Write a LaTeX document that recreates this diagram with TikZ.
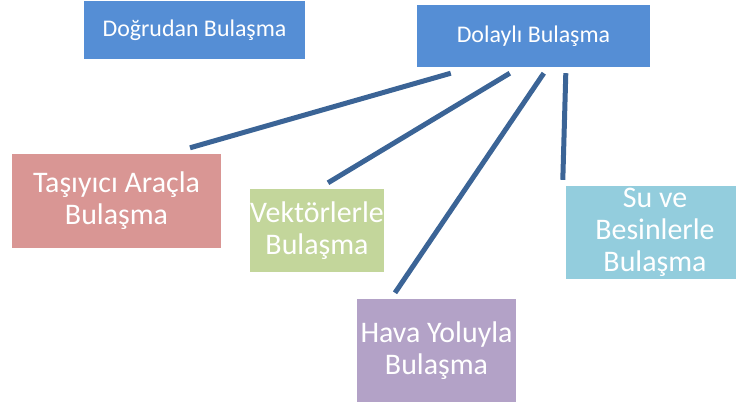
\documentclass[tikz,border=0pt]{standalone}
\usepackage{fontspec}
\setmainfont{Carlito}
\definecolor{kutumavi}{HTML}{558ED5}
\definecolor{kutupembe}{HTML}{D99694}
\definecolor{kutuyesil}{HTML}{C3D69B}
\definecolor{kutumor}{HTML}{B3A2C7}
\definecolor{kutuacik}{HTML}{93CDDD}
\definecolor{cizgirenk}{HTML}{3B6496}
\begin{document}
\begin{tikzpicture}[x=1bp,y=-1bp,
    kutu/.style={inner sep=0pt,text=white,align=center,font=\fontsize{30}{32}\selectfont},
    ust/.style={kutu,fill=kutumavi,font=\fontsize{24}{28}\selectfont},
    cizgi/.style={draw=cizgirenk,line width=5bp}]
        \clip (0,0) rectangle (736,403);
        \node [ust,minimum width=221bp,minimum height=58bp] (dogrudan) at (194.5,30) {Doğrudan Bulaşma};
        \node [ust,minimum width=233bp,minimum height=62bp] (dolayli) at (533.5,36) {Dolaylı Bulaşma};
        \node [kutu,fill=kutupembe,minimum width=209bp,minimum height=94bp] (tasiyici) at (116.5,201) {Taşıyıcı Araçla\\Bulaşma};
        \node [kutu,fill=kutuyesil,minimum width=134bp,minimum height=83bp] (vektor) at (317,230.5) {Vektörlerle\\Bulaşma};
        \node [kutu,fill=kutumor,minimum width=159bp,minimum height=103bp] (hava) at (436.5,350.5) {Hava Yoluyla\\Bulaşma};
        \node [kutu,fill=kutuacik,minimum width=178bp,minimum height=93bp] (su) at (655,232.5) {Su ve\\Besinlerle\\Bulaşma};
        \draw [cizgi] ([xshift=34bp,yshift=-6bp]dolayli.south west) -- ([xshift=73.5bp,yshift=6bp]tasiyici.north);
        \draw [cizgi] ([xshift=93bp,yshift=-6bp]dolayli.south west) -- ([xshift=11bp,yshift=6bp]vektor.north);
        \draw [cizgi] ([xshift=127bp,yshift=-6bp]dolayli.south west) -- ([xshift=-41.5bp,yshift=6bp]hava.north);
        \draw [cizgi] ([xshift=149bp,yshift=-6bp]dolayli.south west) -- ([xshift=-3bp,yshift=6bp]su.north west);
    \end{tikzpicture}
\end{document}
